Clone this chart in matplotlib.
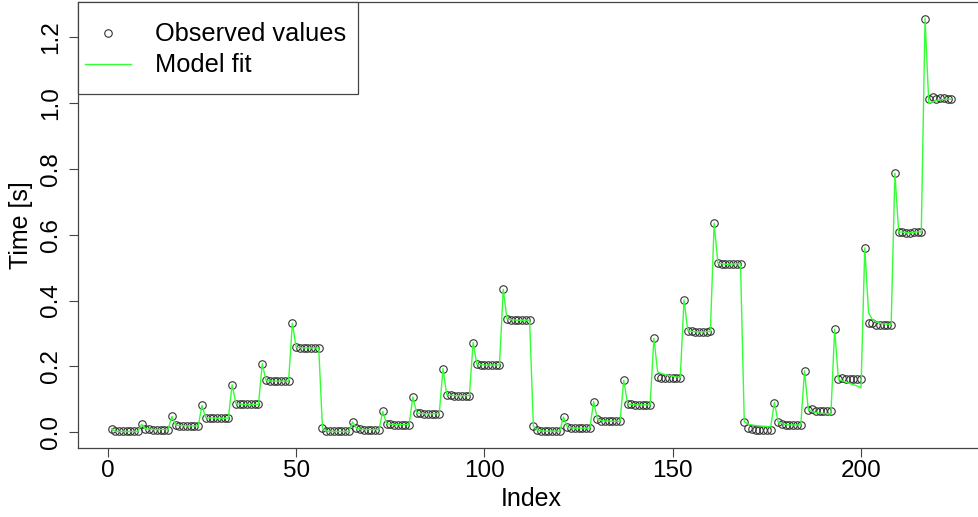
import numpy as np
import matplotlib
matplotlib.use("Agg")
import matplotlib.pyplot as plt
from matplotlib.lines import Line2D
from matplotlib.patches import Rectangle

plt.rcParams['font.family'] = ['Liberation Sans', 'DejaVu Sans']

# observed timings, one row per block of 8 runs (first run of each block is the slow one)
obs_blocks = [
    [0.010, 0.003, 0.002, 0.002, 0.002, 0.002, 0.002, 0.002],
    [0.024, 0.010, 0.009, 0.008, 0.008, 0.008, 0.008, 0.008],
    [0.048, 0.022, 0.020, 0.020, 0.019, 0.019, 0.019, 0.019],
    [0.081, 0.044, 0.043, 0.043, 0.042, 0.042, 0.042, 0.043],
    [0.144, 0.087, 0.085, 0.084, 0.084, 0.084, 0.084, 0.084],
    [0.208, 0.157, 0.156, 0.155, 0.155, 0.155, 0.155, 0.155],
    [0.331, 0.258, 0.257, 0.256, 0.256, 0.256, 0.256, 0.256],
    [0.013, 0.004, 0.002, 0.002, 0.002, 0.002, 0.002, 0.002],
    [0.031, 0.012, 0.009, 0.008, 0.008, 0.008, 0.008, 0.008],
    [0.063, 0.026, 0.024, 0.023, 0.023, 0.023, 0.023, 0.023],
    [0.107, 0.058, 0.057, 0.056, 0.056, 0.056, 0.056, 0.056],
    [0.193, 0.113, 0.112, 0.111, 0.111, 0.111, 0.111, 0.111],
    [0.272, 0.206, 0.205, 0.204, 0.204, 0.204, 0.204, 0.204],
    [0.434, 0.344, 0.342, 0.341, 0.340, 0.340, 0.340, 0.340],
    [0.018, 0.006, 0.004, 0.003, 0.003, 0.003, 0.003, 0.003],
    [0.046, 0.015, 0.013, 0.012, 0.012, 0.012, 0.012, 0.012],
    [0.093, 0.040, 0.035, 0.034, 0.034, 0.033, 0.033, 0.033],
    [0.158, 0.086, 0.084, 0.083, 0.083, 0.083, 0.083, 0.083],
    [0.285, 0.168, 0.166, 0.165, 0.165, 0.165, 0.165, 0.165],
    [0.402, 0.308, 0.306, 0.305, 0.305, 0.305, 0.305, 0.306],
    [0.635, 0.513, 0.512, 0.510, 0.510, 0.511, 0.512, 0.512],
    [0.032, 0.012, 0.009, 0.008, 0.008, 0.008, 0.008, 0.008],
    [0.090, 0.030, 0.026, 0.023, 0.022, 0.022, 0.022, 0.022],
    [0.186, 0.068, 0.070, 0.064, 0.063, 0.063, 0.063, 0.063],
    [0.313, 0.163, 0.165, 0.163, 0.162, 0.162, 0.162, 0.162],
    [0.560, 0.332, 0.333, 0.327, 0.326, 0.326, 0.326, 0.326],
    [0.787, 0.608, 0.608, 0.606, 0.606, 0.607, 0.609, 0.608],
    [1.257, 1.013, 1.017, 1.012, 1.014, 1.014, 1.013, 1.012],
]

# fitted values; equal to the observations except for the blocks listed here
fit_blocks = [list(b) for b in obs_blocks]
fit_blocks[18] = [0.285, 0.183, 0.178, 0.175, 0.172, 0.170, 0.168, 0.166]
fit_blocks[21] = [0.032, 0.024, 0.022, 0.020, 0.019, 0.018, 0.017, 0.016]
fit_blocks[23] = [0.186, 0.068, 0.062, 0.060, 0.058, 0.057, 0.056, 0.055]
fit_blocks[24] = [0.313, 0.160, 0.156, 0.152, 0.148, 0.144, 0.140, 0.135]
fit_blocks[25] = [0.560, 0.363, 0.342, 0.335, 0.331, 0.329, 0.328, 0.327]
fit_blocks[27] = [1.257, 0.999, 1.004, 1.008, 1.010, 1.011, 1.012, 1.012]

observed = np.concatenate(obs_blocks)
fitted = np.concatenate(fit_blocks)
index = np.arange(1, len(observed) + 1)

W, H = 979, 517
fig = plt.figure(figsize=(W / 100, H / 100), dpi=100)
ax = fig.add_axes([78 / W, 69 / H, 907 / W, 446 / H])

pt_style = dict(linestyle='none', marker='o', markersize=5.4, markerfacecolor='none',
                markeredgecolor='#333333', markeredgewidth=0.8)
line_style = dict(color='#33ff33', linewidth=1.0)

ax.plot(index, observed, zorder=2, **pt_style)
ax.plot(index, fitted, zorder=3, **line_style)

# R-style axis ranges (4% padding)
xr = index.max() - index.min()
ax.set_xlim(index.min() - 0.04 * xr, index.max() + 0.04 * xr)
yr = observed.max() - observed.min()
ax.set_ylim(observed.min() - 0.04 * yr, observed.max() + 0.04 * yr)

ax.set_xticks([0, 50, 100, 150, 200])
ax.set_yticks([0.0, 0.2, 0.4, 0.6, 0.8, 1.0, 1.2])
ax.set_yticklabels(['0.0', '0.2', '0.4', '0.6', '0.8', '1.0', '1.2'],
                   rotation=90, va='center')
ax.tick_params(axis='both', direction='out', length=6.5, width=0.8,
               color='#444444', labelsize=17.5)
ax.tick_params(axis='x', pad=2)
ax.tick_params(axis='y', pad=5)
for s in ax.spines.values():
    s.set_color('#444444')
    s.set_linewidth(0.9)

ax.set_xlabel('Index', fontsize=18, labelpad=4)
ax.set_ylabel('Time [s]', fontsize=18, labelpad=5)

# legend box, placed in figure pixel space
def px(x, y):
    return x / W, 1 - y / H

fig.patches.append(Rectangle(px(78, 94), 280 / W, 92 / H, transform=fig.transFigure,
                             facecolor='white', edgecolor='#444444', linewidth=0.9,
                             zorder=5))
fig.lines.append(Line2D([px(108, 33)[0]], [px(108, 33)[1]], transform=fig.transFigure,
                        zorder=6, **pt_style))
fig.lines.append(Line2D([px(85, 64)[0], px(131, 64)[0]], [px(85, 64)[1]] * 2,
                        transform=fig.transFigure, zorder=6, **line_style))
fig.text(*px(155, 34), 'Observed values', fontsize=18.3, va='center', ha='left', zorder=7)
fig.text(*px(155, 65), 'Model fit', fontsize=18.3, va='center', ha='left', zorder=7)

fig.savefig('out.png', dpi=100)
